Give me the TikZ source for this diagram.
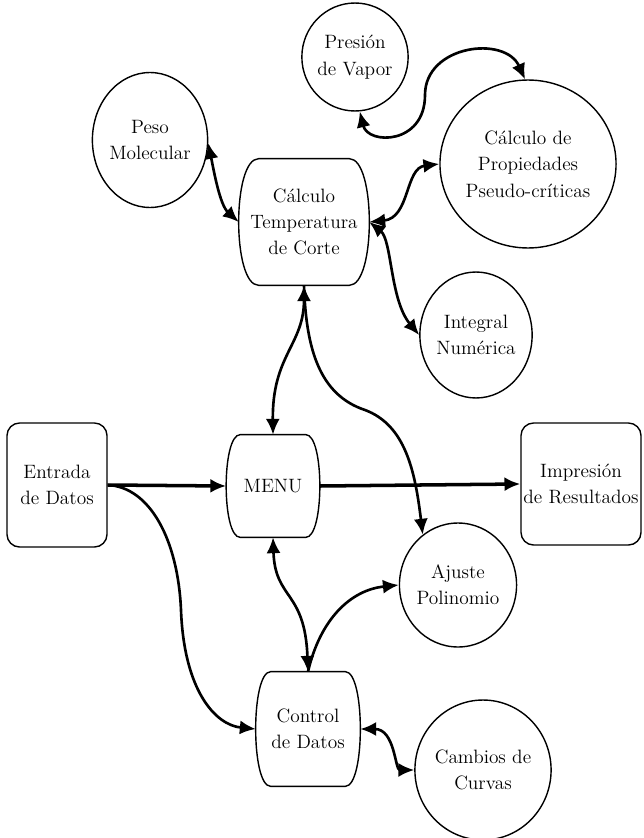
\documentclass[tikz,border=0pt]{standalone}
\usepackage{tikz}
\usetikzlibrary{shapes.geometric,arrows.meta}
% barrel shaped box drawn round a node: \Barril[inset]{node}
\def\Barril[#1]#2{([xshift=#1]#2.north west) -- ([xshift=-#1]#2.north east) .. controls ([xshift=#1/3]#2.north east) and ([xshift=#1/3]#2.south east) .. ([xshift=-#1]#2.south east) -- ([xshift=#1]#2.south west) .. controls ([xshift=-#1/3]#2.south west) and ([xshift=-#1/3]#2.north west) .. cycle}
\tikzset{
	bola/.style={ellipse, draw, line width=.8pt, inner sep=0pt, align=center},
	caja/.style={rectangle, draw, line width=.8pt, rounded corners=.25cm, inner sep=0pt, align=center},
	barril/.style={rectangle, inner sep=0pt, align=center},
	flecha/.style={line width=1.5pt, -{Latex[length=9pt,width=8pt]}},
	dobleflecha/.style={line width=1.5pt, {Latex[length=9pt,width=8pt]}-{Latex[length=9pt,width=8pt]}},
}

\begin{document}
\begin{tikzpicture}[x=.02cm, y=.02cm, font=\fontsize{11}{15}\selectfont]
	\useasboundingbox (0,0) rectangle (643,-838);

	\node[bola, minimum width=1.8cm, minimum height=2.16cm] (presion) at (355,-57) {Presión\\de Vapor};
	\node[bola, minimum width=3.02cm, minimum height=3.36cm] (propied) at (528,-164) {Cálculo de\\Propiedades\\Pseudo-críticas};
	\node[bola, minimum width=2cm, minimum height=2.7cm] (peso) at (150,-140) {Peso\\Molecular};
	\node[barril, minimum width=2.6cm, minimum height=2.52cm] (temp) at (304,-222) {Cálculo\\Temperatura\\de Corte};
	\node[bola, minimum width=2.14cm, minimum height=2.52cm] (integral) at (476,-335) {Integral\\Numérica};
	\node[caja, minimum width=2cm, minimum height=2.48cm] (entrada) at (57,-485) {Entrada\\de Datos};
	\node[barril, minimum width=1.86cm, minimum height=2.04cm] (menu) at (273,-486) {MENU};
	\node[caja, minimum width=2.4cm, minimum height=2.44cm] (impresion) at (581,-484) {Impresión\\de Resultados};
	\node[bola, minimum width=2.14cm, minimum height=2.48cm] (ajuste) at (458,-585) {Ajuste\\Polinomio};
	\node[barril, minimum width=2.08cm, minimum height=2.28cm] (control) at (308,-729) {Control\\de Datos};
	\node[bola, minimum width=2.22cm, minimum height=2.8cm] (cambios) at (483,-770) {Cambios de\\Curvas};

	\draw[line width=.8pt] \Barril[.4cm]{temp};
	\draw[line width=.8pt] \Barril[.28cm]{menu};
	\draw[line width=.8pt] \Barril[.3cm]{control};

	\draw[dobleflecha] (presion.-85) .. controls (368,-145) and (425,-145) .. (425,-95) .. controls (425,-45) and (505,-35) .. (propied.92);
	\draw[dobleflecha] (peso.-3) .. controls (214,-172) and (220,-205) .. (temp.west);
	\draw[dobleflecha] (temp.east) .. controls (410,-218) and (405,-168) .. (propied.west);
	\draw[dobleflecha] (temp.east) .. controls (392,-240) and (390,-300) .. (integral.west);
	\draw[dobleflecha] (temp.south) .. controls (304,-345) and (272,-355) .. (menu.north);
	\draw[flecha] (temp.south) .. controls (306,-350) and (320,-395) .. (365,-410) .. controls (405,-425) and (415,-470) .. (ajuste.125);
	\draw[flecha, line width=2pt] (entrada.east) -- (menu.west);
	\draw[flecha, line width=2pt] (menu.east) -- (impresion.west);
	\draw[flecha] (entrada.east) .. controls (150,-487) and (178,-540) .. (181,-610) .. controls (184,-690) and (215,-725) .. (control.west);
	\draw[dobleflecha] (menu.south) .. controls (275,-600) and (305,-590) .. (control.north);
	\draw[flecha] (control.north) .. controls (320,-620) and (350,-590) .. (ajuste.west);
	\draw[dobleflecha] (control.east) .. controls (395,-729) and (395,-770) .. (cambios.west);
\end{tikzpicture}
\end{document}
